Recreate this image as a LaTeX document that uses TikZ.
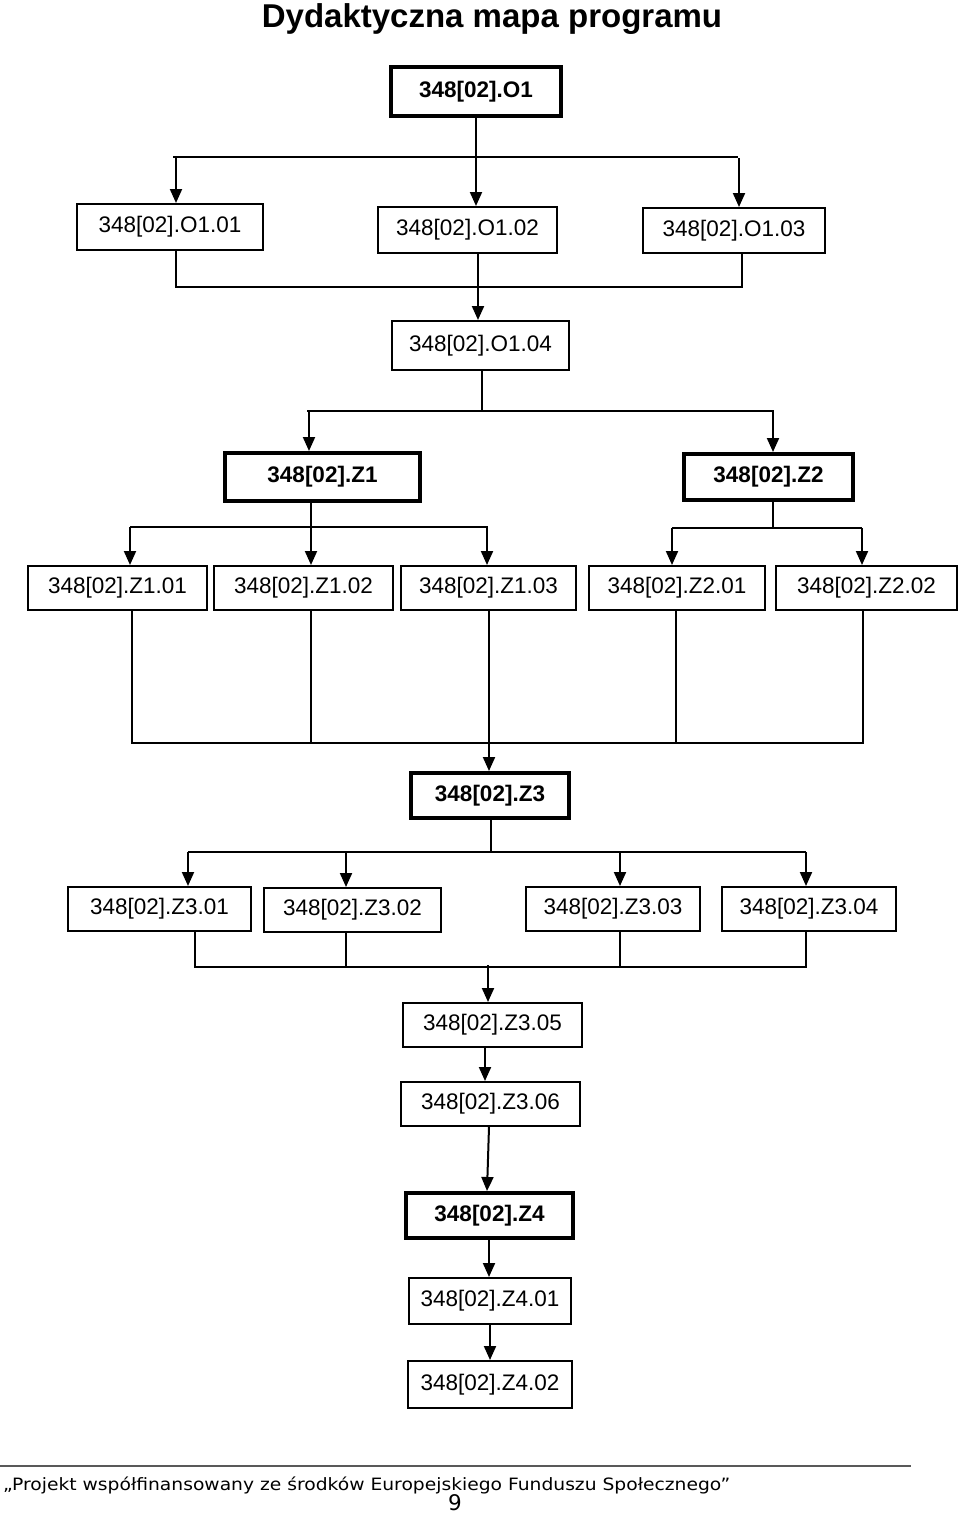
\documentclass[tikz,border=0pt]{standalone}
\usepackage{fontspec}
\usetikzlibrary{arrows.meta}
\newfontfamily\boxfont{Liberation Sans}
\newfontfamily\titlefont{Liberation Sans}
\newfontfamily\footfont[FakeStretch=1.1]{DejaVu Sans}
\newfontfamily\pagefont{DejaVu Sans}
\begin{document}
\begin{tikzpicture}[x=1pt,y=-1pt,
  box/.style={draw, line width=2pt, inner sep=0pt, align=center,
    font=\boxfont\fontsize{22.5}{26}\selectfont},
  mainbox/.style={box, line width=4pt, font=\boxfont\bfseries\fontsize{22.5}{26}\selectfont},
  conn/.style={line width=2pt},
  arr/.style={conn, -{Triangle[width=12pt,length=14pt]}}
]
\useasboundingbox (0,0) rectangle (960,1518);
% title
\node[anchor=base, font=\titlefont\bfseries\fontsize{33}{38}\selectfont, inner sep=0pt] (title) at (492,27) {Dydaktyczna mapa programu};
% nodes
\node[mainbox, minimum width=170pt, minimum height=49pt] (O1) at (476,91.5) {348[02].O1};
\node[box, minimum width=186pt, minimum height=46pt] (O101) at (170,227) {348[02].O1.01};
\node[box, minimum width=179pt, minimum height=46pt] (O102) at (467.5,230) {348[02].O1.02};
\node[box, minimum width=182pt, minimum height=45pt] (O103) at (734,230.5) {348[02].O1.03};
\node[box, minimum width=177pt, minimum height=49pt] (O104) at (480.5,345.5) {348[02].O1.04};
\node[mainbox, minimum width=195pt, minimum height=48pt] (Z1) at (322.5,477) {348[02].Z1};
\node[mainbox, minimum width=169pt, minimum height=46pt] (Z2) at (768.5,477) {348[02].Z2};
\node[box, minimum width=179pt, minimum height=44pt] (Z101) at (117.5,588) {348[02].Z1.01};
\node[box, minimum width=179pt, minimum height=44pt] (Z102) at (303.5,588) {348[02].Z1.02};
\node[box, minimum width=175pt, minimum height=44pt] (Z103) at (488.5,588) {348[02].Z1.03};
\node[box, minimum width=176pt, minimum height=44pt] (Z201) at (677,588) {348[02].Z2.01};
\node[box, minimum width=181pt, minimum height=44pt] (Z202) at (866.5,588) {348[02].Z2.02};
\node[mainbox, minimum width=158pt, minimum height=45pt] (Z3) at (490,795.5) {348[02].Z3};
\node[box, minimum width=183pt, minimum height=44pt] (Z301) at (159.5,909) {348[02].Z3.01};
\node[box, minimum width=177pt, minimum height=44pt] (Z302) at (352.5,910) {348[02].Z3.02};
\node[box, minimum width=174pt, minimum height=44pt] (Z303) at (613,909) {348[02].Z3.03};
\node[box, minimum width=174pt, minimum height=44pt] (Z304) at (809,909) {348[02].Z3.04};
\node[box, minimum width=179pt, minimum height=44pt] (Z305) at (492.5,1025) {348[02].Z3.05};
\node[box, minimum width=179pt, minimum height=44pt] (Z306) at (490.5,1104) {348[02].Z3.06};
\node[mainbox, minimum width=167pt, minimum height=45pt] (Z4) at (489.5,1215.5) {348[02].Z4};
\node[box, minimum width=162pt, minimum height=46pt] (Z401) at (490,1301) {348[02].Z4.01};
\node[box, minimum width=164pt, minimum height=47pt] (Z402) at (490,1384.5) {348[02].Z4.02};
% junction coordinates
\coordinate (j1l) at (173,157); \coordinate (j1r) at (738,157);
\coordinate (j2l) at (176,287); \coordinate (j2r) at (742,287);
\coordinate (j3l) at (307,411); \coordinate (j3r) at (774,411);
\coordinate (j4l) at (130,527); \coordinate (j4r) at (488,527);
\coordinate (j5l) at (672,528); \coordinate (j5r) at (862,528);
\coordinate (j6l) at (132,743); \coordinate (j6r) at (863,743);
\coordinate (j7l) at (188,852); \coordinate (j7r) at (806,852);
\coordinate (j8l) at (195,967); \coordinate (j8r) at (806,967);
% group 1
\draw[arr] (O1.south) -- (O1.south |- O102.north);
\draw[conn] (j1l) -- (j1r);
\draw[arr] (176,157) -- (176,0 |- O101.north);
\draw[arr] (739,158) -- (739,0 |- O103.north);
% group 2
\draw[conn] (176,0 |- O101.south) -- (j2l) -- (j2r) -- (742,0 |- O103.south);
\draw[conn] (478,0 |- O102.south) -- (478,287);
\draw[arr] (478,283) -- (478,0 |- O104.north);
% group 3
\draw[conn] (482,0 |- O104.south) -- (482,411);
\draw[conn] (j3l) -- (j3r);
\draw[arr] (309,411) -- (309,0 |- Z1.north);
\draw[arr] (773,411) -- (773,0 |- Z2.north);
% group 4
\draw[arr] (311,0 |- Z1.south) -- (311,0 |- Z102.north);
\draw[conn] (j4l) -- (j4r);
\draw[arr] (130,527) -- (130,0 |- Z101.north);
\draw[arr] (487,527) -- (487,0 |- Z103.north);
\draw[conn] (773,0 |- Z2.south) -- (773,528);
\draw[conn] (j5l) -- (j5r);
\draw[arr] (672,528) -- (672,0 |- Z201.north);
\draw[arr] (862,528) -- (862,0 |- Z202.north);
% group 5
\draw[conn] (132,0 |- Z101.south) -- (j6l) -- (j6r) -- (863,0 |- Z202.south);
\draw[conn] (311,0 |- Z102.south) -- (311,743);
\draw[conn] (676,0 |- Z201.south) -- (676,743);
\draw[arr] (489,0 |- Z103.south) -- (489,0 |- Z3.north);
% group 6
\draw[conn] (491,0 |- Z3.south) -- (491,852);
\draw[conn] (j7l) -- (j7r);
\draw[arr] (188,852) -- (188,0 |- Z301.north);
\draw[arr] (346,852) -- (346,0 |- Z302.north);
\draw[arr] (620,852) -- (620,0 |- Z303.north);
\draw[arr] (806,852) -- (806,0 |- Z304.north);
% group 7
\draw[conn] (195,0 |- Z301.south) -- (j8l) -- (j8r) -- (806,0 |- Z304.south);
\draw[conn] (346,0 |- Z302.south) -- (346,967);
\draw[conn] (620,0 |- Z303.south) -- (620,967);
\draw[arr] (488,965) -- (488,0 |- Z305.north);
% group 8
\draw[arr] (485,0 |- Z305.south) -- (485,0 |- Z306.north);
\draw[arr] (489,0 |- Z306.south) -- (487,0 |- Z4.north);
\draw[arr] (489,0 |- Z4.south) -- (489,0 |- Z401.north);
\draw[arr] (490,0 |- Z401.south) -- (490,0 |- Z402.north);
% footer
\coordinate (fl) at (0,1466); \coordinate (fr) at (911,1466);
\draw[line width=2pt, black!65] (fl) -- (fr);
\node[anchor=base west, inner sep=0pt, font=\footfont\fontsize{17}{20}\selectfont] (foot) at (3,1490) {„Projekt współfinansowany ze środków Europejskiego Funduszu Społecznego”};
\node[anchor=base, inner sep=0pt, font=\pagefont\fontsize{21.5}{24}\selectfont] (page) at (455,1510) {9};
\end{tikzpicture}
\end{document}
